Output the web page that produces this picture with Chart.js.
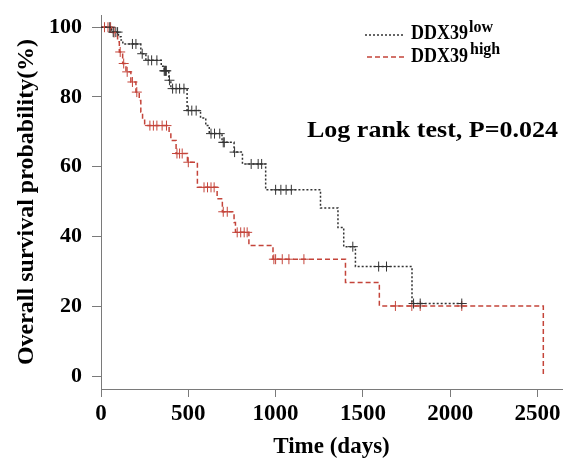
<!DOCTYPE html>
<html lang="en">
  <head>
    <meta charset="UTF-8" />
    <title>DDX39 survival</title>
    <script src="https://cdn.jsdelivr.net/npm/chart.js@4.4.0/dist/chart.umd.min.js"></script>
    <style>
      html, body { margin: 0; padding: 0; background: #fff; }
    </style>
  </head>
  <body>
    <canvas id="chart" width="568" height="461"></canvas>

    <script>
      // Kaplan-Meier steps (days, survival %)
      const lowTimes = [0, 60, 100, 115, 125, 228, 257, 345, 362, 388, 400, 493, 570, 600, 620, 693, 762, 810, 943, 1257, 1357, 1390, 1457, 1781, 2066];
      const lowSurv = [100, 98.6, 97.3, 96.3, 95.2, 92.4, 90.5, 88.8, 87.5, 84.8, 82.4, 76.1, 74, 71.8, 69.5, 67, 64.2, 60.8, 53.4, 48.2, 42.6, 37.1, 31.4, 20.8, 20.8];
      const lowCensor = [50, 70, 85, 95, 180, 200, 236, 270, 290, 320, 362, 366, 370, 374, 392, 410, 430, 450, 475, 500, 520, 545, 630, 650, 680, 700, 706, 765, 860, 900, 920, 1000, 1030, 1060, 1090, 1442, 1590, 1635, 1790, 1828, 2066];

      const highTimes = [0, 60, 95, 105, 124, 143, 171, 200, 219, 228, 238, 250, 390, 400, 430, 495, 552, 665, 695, 762, 770, 847, 985, 1400, 1594, 2533];
      const highSurv = [100, 98.5, 95.8, 92.9, 89.6, 87.2, 84.3, 81.4, 79, 75.7, 73.3, 71.8, 69.9, 67.5, 63.8, 61.3, 54.1, 50.8, 47.1, 44, 41.2, 37.4, 33.5, 26.8, 20.1, 0];
      const highCensor = [20, 40, 55, 75, 110, 130, 150, 180, 205, 280, 300, 320, 350, 375, 435, 450, 465, 500, 590, 610, 630, 648, 700, 723, 780, 800, 820, 837, 990, 1000, 1038, 1076, 1162, 1686, 1780, 1828, 2066];

      const xTicks = [0, 500, 1000, 1500, 2000, 2500];
      const yTicks = [0, 20, 40, 60, 80, 100];

      const serif = "'Liberation Serif', 'Times New Roman', serif";
      const lowColor = "#333333";
      const highColor = "#c4443a";

      function steps(times, surv) {
        return times.map((t, i) => ({ x: t, y: surv[i] }));
      }

      // survival value of the step curve at time t
      function survAt(times, surv, t) {
        let s = surv[0];
        for (let i = 0; i < times.length; i++) {
          if (times[i] <= t) s = surv[i];
        }
        return s;
      }

      function censorPoints(list, times, surv) {
        return list.map((t) => ({ x: t, y: survAt(times, surv, t) }));
      }

      // text squeezed/stretched to a given width
      function fitText(ctx, text, x, y, width) {
        const w = ctx.measureText(text).width;
        ctx.save();
        ctx.translate(x, y);
        ctx.scale(width / w, 1);
        ctx.fillText(text, 0, 0);
        ctx.restore();
      }

      const overlay = {
        id: "overlay",
        afterDraw(chart) {
          const ctx = chart.ctx;
          ctx.save();
          ctx.lineWidth = 1.5;
          ctx.strokeStyle = lowColor;
          ctx.setLineDash([2, 2]);
          ctx.beginPath();
          ctx.moveTo(365, 35);
          ctx.lineTo(404, 35);
          ctx.stroke();
          ctx.strokeStyle = highColor;
          ctx.setLineDash([5, 3]);
          ctx.beginPath();
          ctx.moveTo(367, 57);
          ctx.lineTo(404, 57);
          ctx.stroke();
          ctx.setLineDash([]);

          ctx.fillStyle = "#000";
          ctx.textBaseline = "alphabetic";
          ctx.textAlign = "left";
          ctx.font = "bold 20px " + serif;
          fitText(ctx, "DDX39", 411, 39, 57);
          fitText(ctx, "DDX39", 411, 62, 57);
          ctx.font = "bold 16px " + serif;
          ctx.fillText("low", 469, 32);
          ctx.fillText("high", 470, 54);

          ctx.font = "bold 23px " + serif;
          fitText(ctx, "Log rank test, P=0.024", 307, 137, 251);
          ctx.restore();
        },
      };

      const ctx = document.getElementById("chart").getContext("2d");
      new Chart(ctx, {
        type: "line",
        data: {
          datasets: [
            {
              label: "DDX39 low",
              data: steps(lowTimes, lowSurv),
              stepped: true,
              borderColor: lowColor,
              borderWidth: 1.5,
              borderDash: [2, 2],
              pointRadius: 0,
              fill: false,
            },
            {
              label: "DDX39 high",
              data: steps(highTimes, highSurv),
              stepped: true,
              borderColor: highColor,
              borderWidth: 1.5,
              borderDash: [5, 3],
              pointRadius: 0,
              fill: false,
            },
            {
              type: "scatter",
              label: "low censored",
              data: censorPoints(lowCensor, lowTimes, lowSurv),
              pointStyle: "cross",
              pointRadius: 5,
              borderColor: lowColor,
              borderWidth: 1,
              showLine: false,
            },
            {
              type: "scatter",
              label: "high censored",
              data: censorPoints(highCensor, highTimes, highSurv),
              pointStyle: "cross",
              pointRadius: 5,
              borderColor: highColor,
              borderWidth: 1,
              showLine: false,
            },
          ],
        },
        options: {
          responsive: false,
          animation: false,
          layout: { padding: { top: 15, right: 5, left: 0, bottom: 0 } },
          plugins: {
            legend: { display: false },
            tooltip: { enabled: false },
          },
          scales: {
            x: {
              type: "linear",
              position: "bottom",
              min: 0,
              max: 2640,
              afterBuildTicks: (scale) => {
                scale.ticks = xTicks.map((v) => ({ value: v }));
              },
              afterFit: (scale) => {
                scale.height = 72;
                scale.paddingLeft = 0;
                scale.paddingRight = 0;
              },
              grid: { drawOnChartArea: false, tickLength: 8, color: "#7a7a7a" },
              border: { color: "#7a7a7a", width: 1 },
              ticks: {
                color: "#000",
                padding: 3,
                maxRotation: 0,
                callback: (v) => String(v),
                font: { family: serif, size: 23, weight: "bold" },
              },
              title: {
                display: true,
                text: "Time (days)",
                color: "#000",
                padding: { top: 0, bottom: 0 },
                font: { family: serif, size: 23, weight: "bold" },
              },
            },
            y: {
              min: -3.7,
              max: 103.5,
              afterBuildTicks: (scale) => {
                scale.ticks = yTicks.map((v) => ({ value: v }));
              },
              afterFit: (scale) => {
                scale.width = 101;
                scale.paddingTop = 0;
                scale.paddingBottom = 0;
              },
              grid: { drawOnChartArea: false, tickLength: 9, color: "#7a7a7a" },
              border: { color: "#7a7a7a", width: 1 },
              ticks: {
                color: "#000",
                padding: 10,
                callback: (v) => String(v),
                font: { family: serif, size: 22, weight: "bold" },
              },
              title: {
                display: true,
                text: "Overall survival probability(%)",
                color: "#000",
                padding: { top: 12, bottom: 0 },
                font: { family: serif, size: 24, weight: "bold" },
              },
            },
          },
        },
        plugins: [overlay],
      });
    </script>
  </body>
</html>
